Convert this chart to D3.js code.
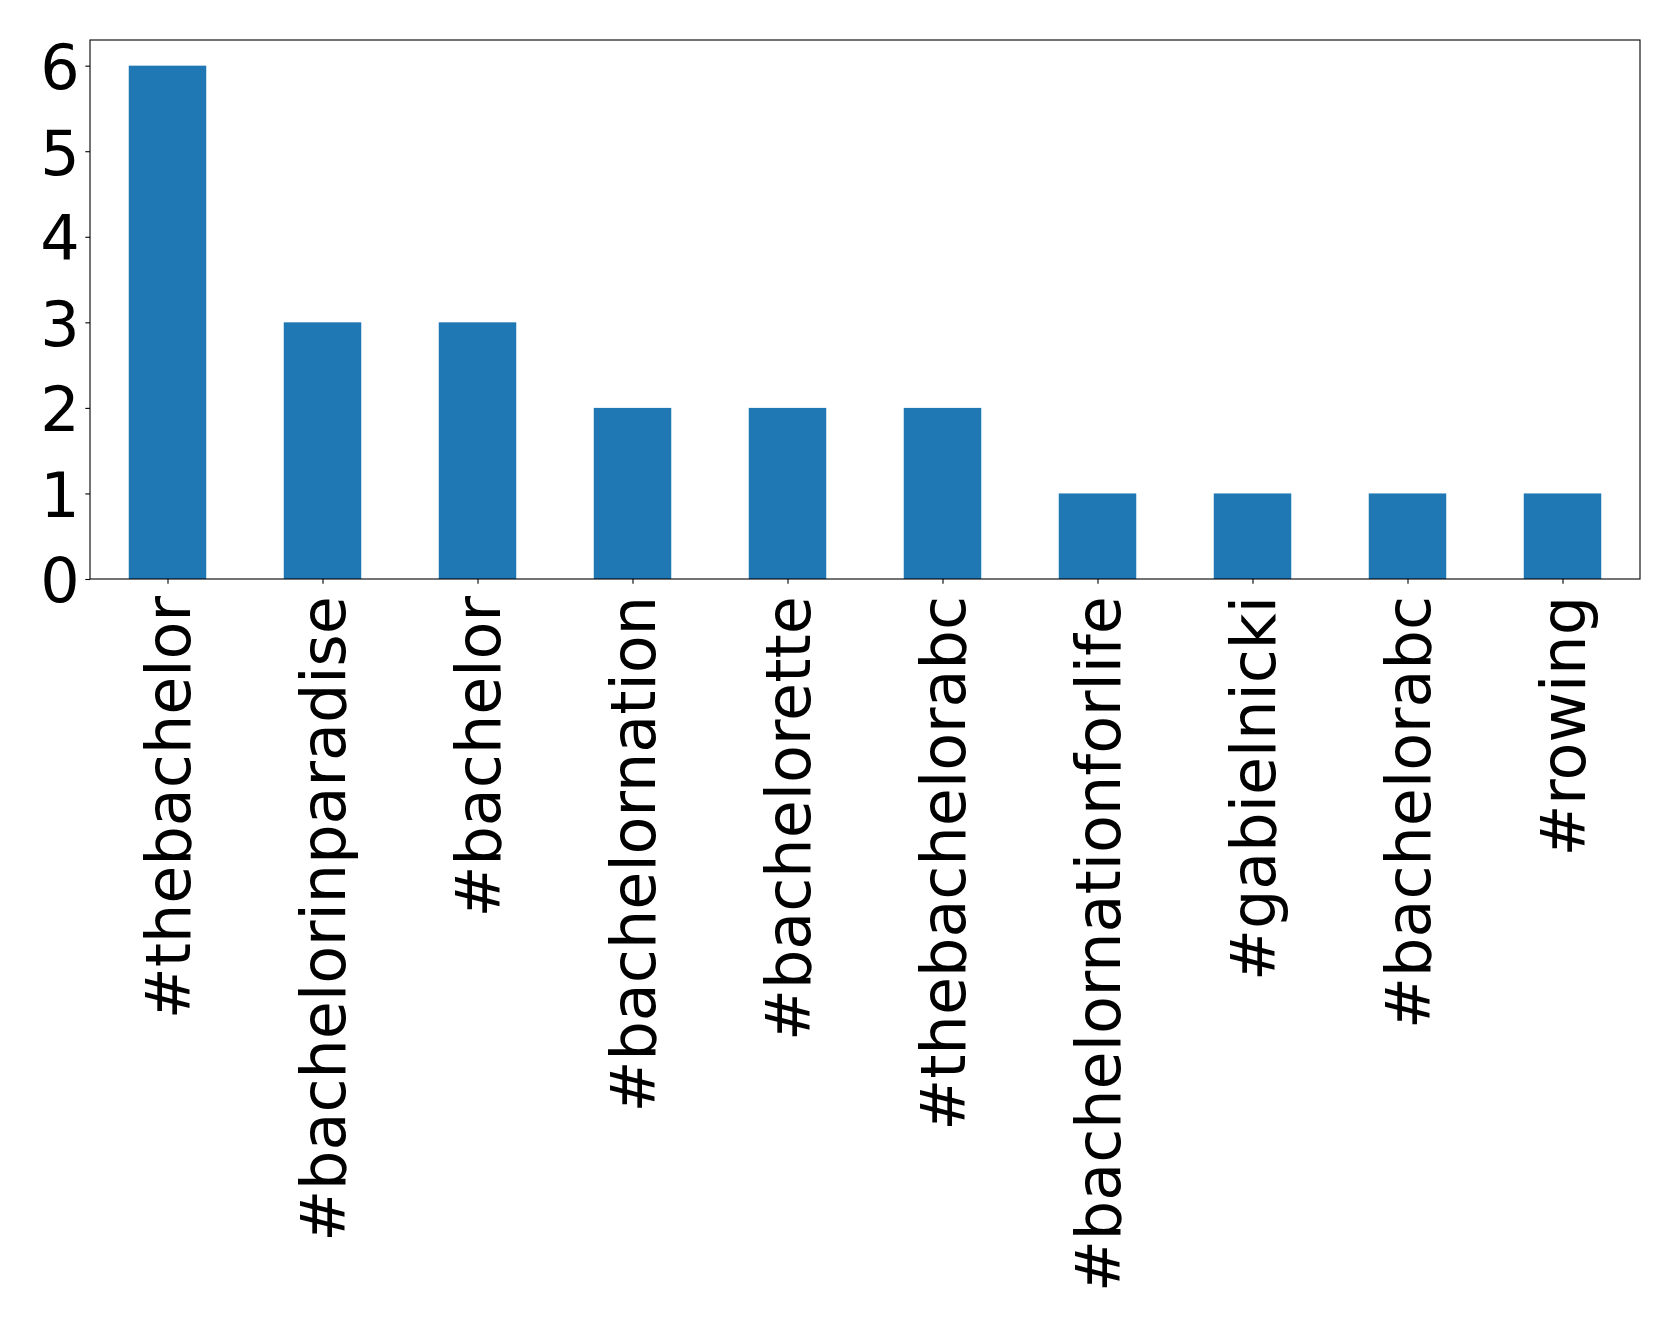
<!DOCTYPE html>
<html>
<head>
<meta charset="utf-8">
<script src="https://cdn.jsdelivr.net/npm/d3@7"></script>
<style>
  html, body { margin: 0; padding: 0; background: #fff; }
  svg { display: block; }
</style>
</head>
<body>
<svg id="chart" width="1679" height="1330"></svg>
<script>
const categories = ["#thebachelor", "#bachelorinparadise", "#bachelor", "#bachelornation", "#bachelorette", "#thebachelorabc", "#bachelornationforlife", "#gabielnicki", "#bachelorabc", "#rowing"];
const values = [6, 3, 3, 2, 2, 2, 1, 1, 1, 1];
const yTicks = [0, 1, 2, 3, 4, 5, 6];

(function () {
const W = 1679, H = 1330;
const mLeft = 90, mRight = 1640, mTop = 40, mBottom = 579;
const fontFamily = "'DejaVu Sans', sans-serif";
const fontSize = 62;

const svg = d3.select("#chart");

const x = d3.scaleLinear().domain([-0.5, categories.length - 0.5]).range([mLeft, mRight]);
const y = d3.scaleLinear().domain([0, 6.3]).range([mBottom, mTop]);
const barW = 0.5;

svg.append("rect").attr("x", 0).attr("y", 0).attr("width", W).attr("height", H).attr("fill", "#fff");

svg.append("g").selectAll("rect").data(values).join("rect")
  .attr("x", (d, i) => x(i - barW / 2))
  .attr("width", (d, i) => x(i + barW / 2) - x(i - barW / 2))
  .attr("y", d => y(d))
  .attr("height", d => y(0) - y(d))
  .attr("fill", "#1f77b4");

// Y axis
const yAxis = d3.axisLeft(y).tickValues(yTicks).tickFormat(d3.format("d")).tickSize(4.7).tickPadding(5.5);
const gy = svg.append("g").attr("transform", `translate(${mLeft},0)`).call(yAxis);
gy.select(".domain").remove();
gy.selectAll(".tick line").attr("stroke", "#000").attr("stroke-width", 1.1);
gy.selectAll(".tick text").attr("font-family", fontFamily).attr("font-size", fontSize).attr("fill", "#000").attr("dy", "0.37em");

// X axis
const xAxis = d3.axisBottom(x).tickValues(d3.range(categories.length)).tickFormat(i => categories[i]).tickSize(4.7).tickPadding(0);
const gx = svg.append("g").attr("transform", `translate(0,${mBottom})`).call(xAxis);
gx.select(".domain").remove();
gx.selectAll(".tick line").attr("stroke", "#000").attr("stroke-width", 1.1);
gx.selectAll(".tick text")
  .attr("font-family", fontFamily).attr("font-size", fontSize).attr("fill", "#000")
  .attr("text-anchor", "end")
  .attr("transform", "translate(0,17) rotate(-90)")
  .attr("x", 0).attr("y", 0)
  .attr("dy", "0.35em");

// Frame
svg.append("rect").attr("x", mLeft).attr("y", mTop).attr("width", mRight - mLeft).attr("height", mBottom - mTop)
  .attr("fill", "none").attr("stroke", "#000").attr("stroke-width", 1.1);
})();
</script>
</body>
</html>
